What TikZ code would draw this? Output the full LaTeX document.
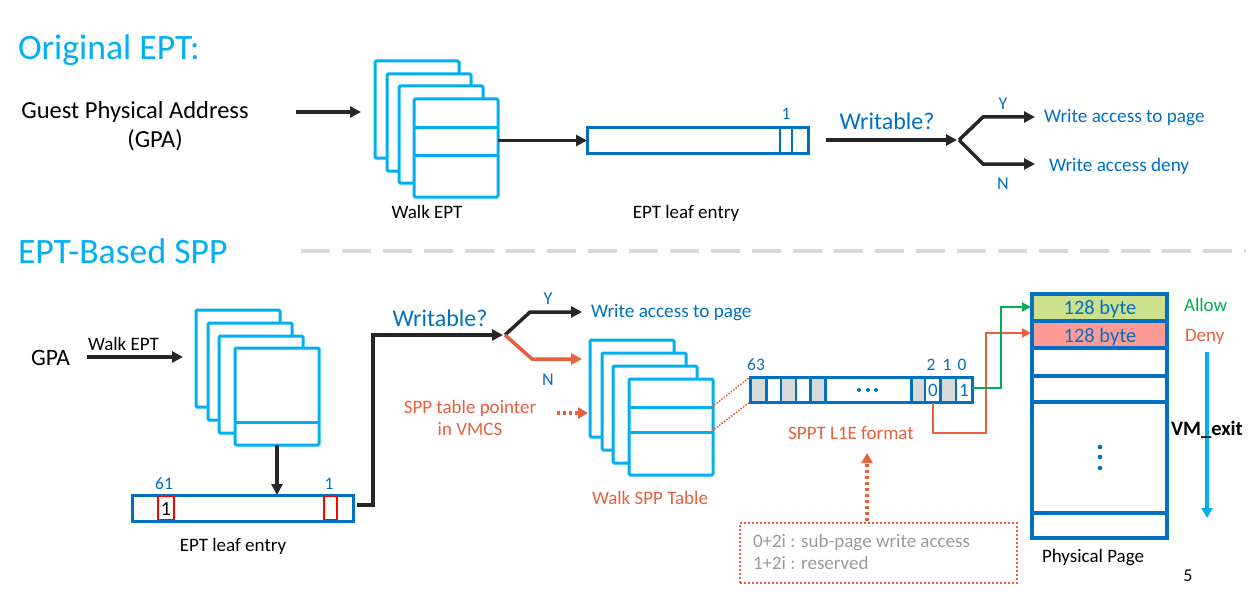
\documentclass[tikz,border=0pt]{standalone}
\usepackage{fontspec}
\setmainfont{Carlito}
\usetikzlibrary{arrows.meta,calc}
\definecolor{cyanc}{HTML}{00B0F0}
\definecolor{bluec}{HTML}{0070C0}
\definecolor{orc}{HTML}{E8603C}
\definecolor{grc}{HTML}{00B050}
\definecolor{darkc}{HTML}{262626}
\definecolor{cellg}{HTML}{D9D9D9}
\definecolor{rowg}{HTML}{CDE08C}
\definecolor{rowr}{HTML}{FF9A96}
\definecolor{txtg}{HTML}{9A9A9A}
\definecolor{sepc}{HTML}{D9D9D9}
\begin{document}
\begin{tikzpicture}[x=1pt,y=-1pt,
  every node/.style={inner sep=0pt,outer sep=0pt},
  pg/.style={draw=cyanc,line width=3pt,fill=white,rounded corners=1.2pt,minimum width=84pt,minimum height=97pt,anchor=north west},
  barbox/.style={draw=bluec,line width=3pt,anchor=north west},
  darr/.style={draw=darkc,line width=3.5pt,-{Triangle[length=11pt,width=11pt]}},
  oarr/.style={draw=orc,line width=3.5pt,-{Triangle[length=11pt,width=11pt]}},
  lbl/.style={anchor=base,font=\fontsize{19}{22}\selectfont},
  lblw/.style={anchor=base west,font=\fontsize{19}{22}\selectfont},
  num/.style={anchor=base,font=\fontsize{17.5}{20}\selectfont,text=bluec},
  yn/.style={anchor=base,font=\fontsize{18}{21}\selectfont,text=bluec},
  ttl/.style={anchor=base west,font=\fontsize{35.7}{42}\selectfont,text=cyanc},
  wr/.style={anchor=base,font=\fontsize{24}{28}\selectfont,text=bluec},
  acc/.style={anchor=base west,font=\fontsize{19.2}{22}\selectfont,text=bluec},
  dotline/.style={draw=orc,line width=3.5pt,dash pattern=on 3pt off 3pt,-{Triangle[length=10pt,width=11pt]}},
]
\fill[white] (0,0) rectangle (1252,591);
\useasboundingbox (0,0) rectangle (1252,591);

% ---------------- titles
\node[ttl] (t1) at (18,60) {Original EPT:};
\node[ttl] (t2) at (18,263) {EPT-Based SPP};
\coordinate (sepa) at (301,251);
\coordinate (sepb) at (1246,251);
\draw[sepc,line width=4pt,dash pattern=on 29pt off 12pt] (sepa) -- (sepb);

% ---------------- top part
\node[anchor=base,font=\fontsize{24.5}{28}\selectfont] (g1) at (135,118) {Guest Physical Address};
\node[anchor=base,font=\fontsize{24.5}{28}\selectfont] (g2) at (155,147) {(GPA)};
\coordinate (a1s) at (296,112);
\coordinate (a1e) at (361,112);
\draw[darr] (a1s) -- (a1e);

\node[pg] (ta) at (375,61) {};
\node[pg] (tb) at (387,74) {};
\node[pg] (tc) at (399,86) {};
\node[pg,minimum height=98pt] (td) at (414,99) {};
\draw[cyanc,line width=3pt] (414,128) -- (498,128) (414,155) -- (498,155);
\node[lbl] (twalk) at (427,218) {Walk EPT};

\node[barbox,minimum width=221pt,minimum height=25pt] (leaf1) at (587,128) {};
\draw[bluec,line width=2.5pt] (780,128) -- (780,153) (792,128) -- (792,153);
\node[num] (l1n) at (786,120) {1};
\node[lbl] (tleaf) at (686,218) {EPT leaf entry};
\draw[darr] (td.east |- leaf1.west) -- (leaf1.west);

\node[wr] (wr1) at (887,130) {Writable?};
\coordinate (w1s) at (826,140);
\coordinate (w1e) at (957,140);
\coordinate (fk1) at (959,140);
\coordinate (y1) at (983,117);
\coordinate (y1e) at (1035,117);
\coordinate (n1) at (983,164);
\coordinate (n1e) at (1035,164);
\draw[darr] (w1s) -- (w1e);
\draw[darr] (fk1) -- (y1) -- (y1e);
\draw[darr] (fk1) -- (n1) -- (n1e);
\node[yn] (ty1) at (1003,110) {Y};
\node[yn] (tn1) at (1003,189) {N};
\node[acc] (wa1) at (1044,122) {Write access to page};
\node[acc] (wd1) at (1049,171) {Write access deny};

% ---------------- bottom part
\node[anchor=base west,font=\fontsize{23.5}{27}\selectfont] (gpa) at (31,365) {GPA};
\node[lblw] (bw) at (88,350) {Walk EPT};
\coordinate (g2s) at (87,357);
\coordinate (g2e) at (183,357);
\draw[darr] (g2s) -- (g2e);

\node[pg] (ba) at (196,310) {};
\node[pg] (bb) at (208,323) {};
\node[pg] (bc) at (219,336) {};
\node[pg] (bd) at (235,348) {};
\draw[cyanc,line width=3pt] (235,422) -- (318,422);

\node[barbox,minimum width=221pt,minimum height=26pt] (leaf2) at (132,495) {};
\draw[red,line width=1.5pt] (158,496.5) rectangle (174,519.5);
\draw[red,line width=1.5pt] (324,496.5) rectangle (337,519.5);
\node[num] (t61) at (164,489) {61};
\node[num] (t1b) at (329,489) {1};
\node[anchor=base,font=\fontsize{20}{23}\selectfont] (one) at (166,515) {1};
\node[lbl] (tleaf2) at (233,551) {EPT leaf entry};
\coordinate (dd) at (277,445);
\draw[darr] (dd) -- (dd |- leaf2.north);

\coordinate (c0) at (357,505);
\coordinate (c1) at (373,505);
\coordinate (c2) at (373,335);
\coordinate (c3) at (503,335);
\draw[darr,line join=miter] (c0) -- (c1) -- (c2) -- (c3);
\node[wr] (wr2) at (440,326) {Writable?};
\coordinate (fk2) at (505,335);
\coordinate (y2) at (530,312);
\coordinate (y2e) at (582,312);
\coordinate (n2) at (532,359);
\coordinate (n2e) at (582,359);
\draw[darr] (fk2) -- (y2) -- (y2e);
\draw[oarr] (fk2) -- (n2) -- (n2e);
\node[yn] (ty2) at (548,304) {Y};
\node[yn] (tn2) at (548,385) {N};
\node[acc] (wa2) at (591,317) {Write access to page};

% SPP table stack
\node[pg] (sa) at (590,340) {};
\node[pg] (sb) at (602,353) {};
\node[pg] (sc) at (613,366) {};
\node[pg,minimum height=96pt] (sd) at (629,379) {};
\draw[cyanc,line width=3pt] (629,407) -- (712,407) (629,432) -- (712,432);
\node[lbl,text=orc] (wspp) at (650,504) {Walk SPP Table};
\node[lbl,text=orc] (sptr1) at (470,413) {SPP table pointer};
\node[lbl,text=orc] (sptr2) at (470,435) {in VMCS};
\coordinate (p1) at (557,413);
\coordinate (p2) at (588,413);
\draw[dotline] (p1) -- (p2);

% SPPT L1E bar
\fill[cellg] (750,377) rectangle (766.5,402) (781,377) rectangle (796,402)
  (810.5,377) rectangle (825.5,402) (911.5,377) rectangle (925,402)
  (940.5,377) rectangle (956,402);
\draw[bluec,line width=2.5pt] \foreach \xx in {766.5,781,796,810.5,825.5,911.5,925,940.5,956} {(\xx,377) -- (\xx,402)};
\node[barbox,minimum width=222pt,minimum height=25pt] (sppt) at (750,377) {};
\fill[bluec] (859,390) circle (2pt) (868,390) circle (2pt) (876,390) circle (2pt);
\node[lbl,text=bluec] (b0) at (933,396) {0};
\node[lbl,text=bluec] (b1) at (964,396) {1};
\node[num] (n63) at (756,370) {63};
\node[num] (nb2) at (931,370) {2};
\node[num] (nb1) at (947,370) {1};
\node[num] (nb0) at (962,370) {0};
\node[lbl,text=orc] (fmt) at (851,439) {SPPT L1E format};
\coordinate (s1) at (712,407);
\coordinate (s2) at (712,431);
\draw[orc,line width=1.5pt,dash pattern=on 1.5pt off 1.5pt] (s1) -- (sppt.north west) (s2) -- (sppt.south west);

% Physical page
\fill[rowg] (1032,294) rectangle (1167,321);
\fill[rowr] (1032,321) rectangle (1167,348);
\draw[bluec,line width=3.5pt] \foreach \yy in {321,348,376,402,513} {(1032,\yy) -- (1167,\yy)};
\node[draw=bluec,line width=3.5pt,minimum width=135pt,minimum height=244pt,anchor=north west] (pp) at (1032,294) {};
\node[anchor=base,font=\fontsize{20.5}{24}\selectfont,text=bluec] (r1t) at (1100,314) {128 byte};
\node[anchor=base,font=\fontsize{20.5}{24}\selectfont,text=bluec] (r2t) at (1100,342) {128 byte};
\fill[bluec] (1100,447) circle (2.3pt) (1100,457) circle (2.3pt) (1100,468) circle (2.3pt);
\node[lblw] (ppt) at (1042,562) {Physical Page};
\node[lblw,text=grc] (allow) at (1184,311) {Allow};
\node[lblw,text=orc] (deny) at (1185,341) {Deny};
\coordinate (v1) at (1207,352);
\coordinate (v2) at (1207,518);
\draw[cyanc,line width=4pt,-{Triangle[length=10pt,width=11pt]}] (v1) -- (v2);
\node[anchor=base west,font=\fontsize{20.5}{24}\selectfont\bfseries] (vm) at (1171,435) {VM\_exit};
\node[anchor=base,font=\fontsize{18}{21}\selectfont] (pnum) at (1188,581) {5};

% connectors from bits to page rows
\coordinate (o1) at (933,403);
\coordinate (o2) at (933,433);
\coordinate (o3) at (986,433);
\coordinate (o4) at (986,333);
\coordinate (o5) at (1031,333);
\draw[orc,line width=2pt,-{Triangle[length=9pt,width=9pt]}] (o1) -- (o2) -- (o3) -- (o4) -- (o5);
\coordinate (q1) at (972,388);
\coordinate (q2) at (1001,388);
\coordinate (q3) at (1001,307);
\coordinate (q4) at (1031,307);
\draw[grc,line width=2pt,-{Triangle[length=9pt,width=9pt]}] (q1) -- (q2) -- (q3) -- (q4);

% dotted legend box
\node[draw=orc,line width=2.5pt,dash pattern=on 2pt off 2pt,minimum width=277pt,minimum height=60pt,anchor=north west] (legend) at (740,523) {};
\node[anchor=base west,font=\fontsize{19}{22}\selectfont,text=txtg] (lg1) at (753,547) {0+2i : sub-page write access};
\node[anchor=base west,font=\fontsize{19}{22}\selectfont,text=txtg] (lg2) at (753,569) {1+2i : reserved};
\coordinate (u1) at (867,521);
\coordinate (u2) at (867,453);
\draw[dotline] (u1) -- (u2);
\end{tikzpicture}
\end{document}
